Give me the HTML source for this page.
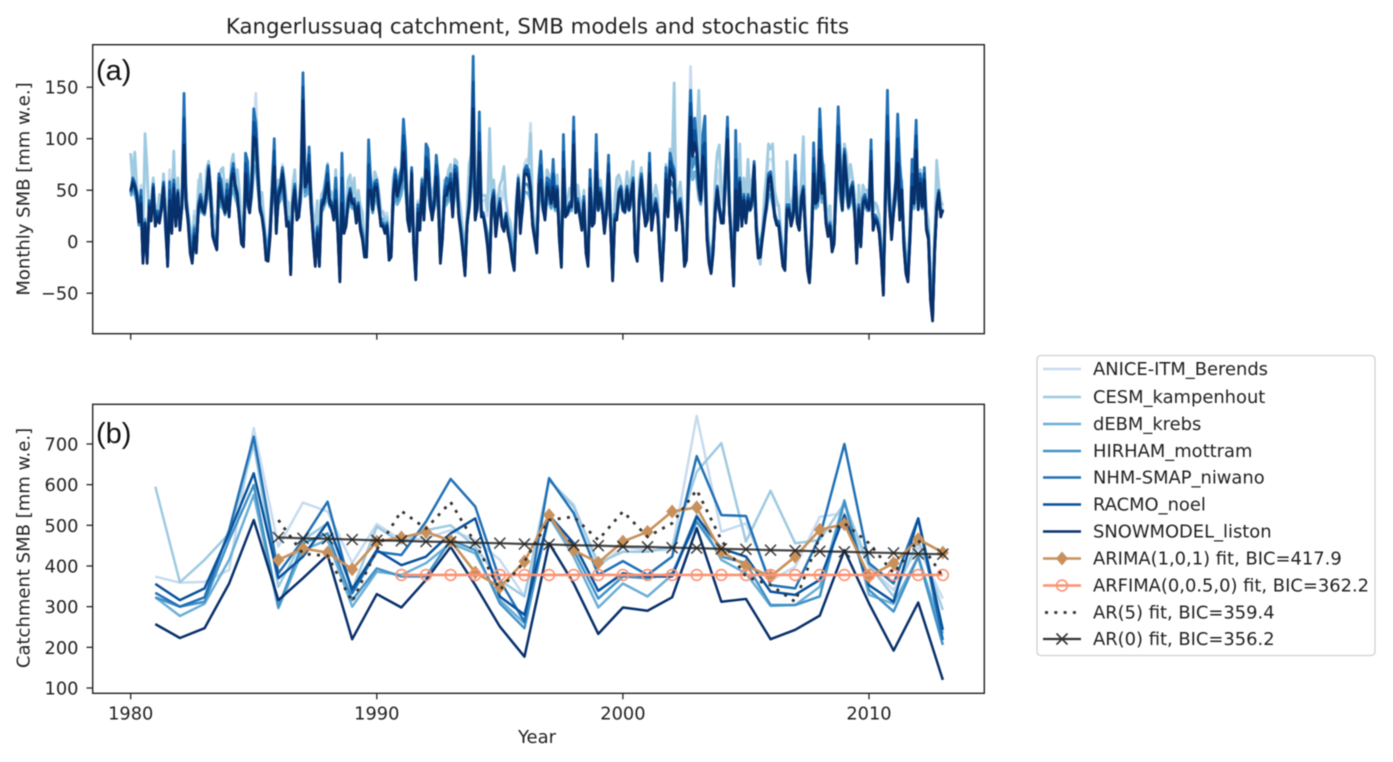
<!DOCTYPE html>
<html lang="en">
<head>
<meta charset="utf-8">
<title>Kangerlussuaq catchment, SMB models and stochastic fits</title>
<style>
html,body{margin:0;padding:0;background:#fff;width:1393px;height:762px;overflow:hidden}
svg{display:block;filter:blur(0.5px)}
text{font-family:"DejaVu Sans","Liberation Sans",sans-serif;fill:#222}
.tick{font-size:17.8px}
.lab{font-size:18px}
.leg{font-size:17.9px}
.panel{font-family:"Liberation Sans",sans-serif;font-size:29px;fill:#111}
</style>
</head>
<body>
<svg id="fig" xmlns="http://www.w3.org/2000/svg" width="1393" height="762" viewBox="0 0 1393 762">
  <text x="537.5" y="33.5" text-anchor="middle" style="font-size:21.3px">Kangerlussuaq catchment, SMB models and stochastic fits</text>
  <text class="lab" transform="translate(29.5,189) rotate(-90)" text-anchor="middle">Monthly SMB [mm w.e.]</text>
  <text class="lab" transform="translate(29.5,548) rotate(-90)" text-anchor="middle">Catchment SMB [mm w.e.]</text>
  <text class="lab" x="537" y="743" text-anchor="middle">Year</text>
  <g id="panelA"></g>
  <g id="panelB"></g>
  <text class="panel" x="96" y="80">(a)</text>
  <text class="panel" x="96" y="443">(b)</text>
  <g>
    <rect x="1037" y="355.5" width="338" height="300" rx="4" fill="#fff" stroke="#d0d0d0" stroke-width="1.3"/>
    <g><line x1="1043" x2="1081" y1="369" y2="369" stroke="#c6dbef" stroke-width="2.5"/><text class="leg" x="1093" y="375">ANICE-ITM_Berends</text></g>
    <g><line x1="1043" x2="1081" y1="397" y2="397" stroke="#9ecae1" stroke-width="2.5"/><text class="leg" x="1093" y="403">CESM_kampenhout</text></g>
    <g><line x1="1043" x2="1081" y1="424" y2="424" stroke="#6baed6" stroke-width="2.5"/><text class="leg" x="1093" y="430">dEBM_krebs</text></g>
    <g><line x1="1043" x2="1081" y1="451" y2="451" stroke="#4292c6" stroke-width="2.5"/><text class="leg" x="1093" y="457">HIRHAM_mottram</text></g>
    <g><line x1="1043" x2="1081" y1="477.5" y2="477.5" stroke="#2171b5" stroke-width="2.5"/><text class="leg" x="1093" y="483.5">NHM-SMAP_niwano</text></g>
    <g><line x1="1043" x2="1081" y1="504.5" y2="504.5" stroke="#08519c" stroke-width="2.5"/><text class="leg" x="1093" y="510.5">RACMO_noel</text></g>
    <g><line x1="1043" x2="1081" y1="531.5" y2="531.5" stroke="#08306b" stroke-width="2.5"/><text class="leg" x="1093" y="537.5">SNOWMODEL_liston</text></g>
    <g><line x1="1043" x2="1081" y1="558.5" y2="558.5" stroke="#c8915c" stroke-width="2.6"/><path d="M1062 551.5 L1068 558.5 L1062 565.5 L1056 558.5 Z" fill="#c8915c"/><text class="leg" x="1093" y="564.5">ARIMA(1,0,1) fit, BIC=417.9</text></g>
    <g><line x1="1043" x2="1081" y1="585.5" y2="585.5" stroke="#fc9272" stroke-width="2.6"/><circle cx="1062" cy="585.5" r="5.4" fill="none" stroke="#fc9272" stroke-width="1.6"/><text class="leg" x="1093" y="591.5">ARFIMA(0,0.5,0) fit, BIC=362.2</text></g>
    <g><line x1="1045" x2="1081" y1="612.5" y2="612.5" stroke="#333" stroke-width="2.8" stroke-dasharray="3 6.3"/><text class="leg" x="1093" y="618.5">AR(5) fit, BIC=359.4</text></g>
    <g><line x1="1043" x2="1081" y1="639" y2="639" stroke="#333" stroke-width="2.2"/><path d="M1056.5 633.5 L1067.5 644.5 M1056.5 644.5 L1067.5 633.5" stroke="#333" stroke-width="1.6"/><text class="leg" x="1093" y="645">AR(0) fit, BIC=356.2</text></g>
  </g>
</svg>
<script>
const xTickLabels = [1980, 1990, 2000, 2010];
const yTicksA = [-50, 0, 50, 100, 150];
const yTicksB = [100, 200, 300, 400, 500, 600, 700];
const monthlyStartYear = 1980;
const annualYears = [1981,1982,1983,1984,1985,1986,1987,1988,1989,1990,1991,1992,1993,1994,1995,1996,1997,1998,1999,2000,2001,2002,2003,2004,2005,2006,2007,2008,2009,2010,2011,2012,2013];
const fitYears = [1986,1987,1988,1989,1990,1991,1992,1993,1994,1995,1996,1997,1998,1999,2000,2001,2002,2003,2004,2005,2006,2007,2008,2009,2010,2011,2012,2013];
const arfimaYears = [1991,1992,1993,1994,1995,1996,1997,1998,1999,2000,2001,2002,2003,2004,2005,2006,2007,2008,2009,2010,2011,2012,2013];

const annualAnice = [374,359,361,390,739,448,556,534,407,503,464,468,488,464,415,325,611,551,398,447,439,439,769,484,505,365,398,521,530,398,341,447,320];
const annualCesm = [595,360,415,480,700,349,464,505,341,497,456,488,500,447,365,325,611,546,407,435,435,447,632,702,460,585,456,464,554,402,325,464,292];
const annualDebm = [323,277,307,415,575,296,439,464,300,386,378,407,456,431,316,259,521,423,298,357,325,378,525,415,382,302,304,349,562,329,307,423,234];
const annualHirham = [323,300,312,464,599,300,456,480,316,394,374,374,464,439,308,247,525,439,320,374,370,382,509,423,407,304,304,325,558,341,288,423,206];
const annualNhm = [334,300,323,488,718,382,464,558,333,435,427,509,614,546,365,263,616,530,378,412,378,423,670,525,523,353,345,472,700,407,357,517,218];
const annualRacmo = [356,316,345,480,628,370,423,507,343,439,402,423,480,517,325,280,525,456,339,382,374,374,521,443,423,337,329,366,525,353,312,517,243];
const annualSnow = [257,223,247,357,513,316,370,427,220,331,298,366,447,353,251,177,456,357,233,298,290,323,493,312,319,220,243,278,439,308,192,310,120];

const fitArima = [415,443,433,392,460,470,484,462,384,348,411,525,439,408,460,484,534,544,435,401,374,423,489,503,374,407,466,433];
const fitArfima = [378,378,378,378,378,378,378,378,378,378,378,378,378,378,378,378,378,378,378,378,378,378,378];
const fitAr5 = [513,430,425,312,440,535,492,557,456,341,411,513,521,464,534,472,505,587,464,374,353,312,472,505,456,382,464,374];
const fitAr0 = [470,468,467,465,463,462,460,459,457,456,454,453,451,450,448,447,445,444,442,441,439,438,436,435,433,432,430,429];

const monthlyAnice = [
85,55,70,48,25,55,5,90,60,25,35,58,
25,35,40,35,60,40,-5,70,25,70,28,55,
25,45,70,46,30,15,0,30,15,60,50,38,
40,60,72,50,25,25,15,55,60,60,50,55,
42,70,75,65,50,40,15,0,65,60,45,60,
95,144,85,45,40,25,-5,-8,25,55,85,30,
55,60,75,55,35,30,-10,50,60,35,35,55,
130,70,65,90,45,20,-5,30,0,45,45,60,
70,48,45,35,60,25,-15,70,30,28,50,60,
48,55,35,45,30,22,0,5,85,62,40,65,
58,46,28,30,25,28,2,4,58,68,52,62,
68,100,75,38,28,60,15,-15,40,30,58,38,
85,72,48,40,50,70,55,-8,20,55,55,62,
70,40,72,70,40,28,10,-12,28,60,75,145,
35,45,95,40,40,40,25,80,40,55,30,45,
50,40,55,38,25,20,5,-5,40,62,30,48,
75,80,78,115,35,20,5,60,85,45,35,65,
60,50,65,45,60,20,-15,85,38,40,48,50,
95,40,50,38,25,48,5,-12,60,30,30,75,
45,55,42,25,40,75,30,-22,35,50,60,55,
45,42,60,45,55,70,0,-5,55,68,45,30,
35,70,28,42,50,40,5,-22,18,70,38,82,
70,100,28,45,52,30,-10,-2,85,170,90,105,
100,125,70,90,85,30,-5,-20,5,45,70,60,
40,35,75,100,38,12,-30,70,25,75,28,55,
35,65,42,55,70,28,-8,-18,12,40,55,80,
80,80,45,35,35,12,-8,-22,65,42,32,40,
70,35,28,55,70,25,-15,-30,15,88,50,55,
100,65,70,38,20,30,2,12,65,105,75,50,
90,80,55,65,60,42,-8,48,18,50,48,48,
42,80,28,35,32,22,-2,-32,45,105,45,18,
38,55,85,42,55,12,-18,-28,20,62,50,95,
38,62,46,60,25,18,-36,-60,8,60,48,36,
32];

const monthlyCesm = [
86,60,87,52,30,48,8,105,70,20,40,62,
22,28,46,30,66,35,-12,60,20,88,24,62,
20,50,60,52,28,10,-5,25,10,48,66,40,
36,70,78,55,30,20,10,60,70,72,42,60,
38,75,85,60,70,50,20,-5,70,62,55,68,
84,118,72,40,48,20,-10,-12,20,64,95,22,
60,55,72,60,40,38,-5,55,70,32,28,45,
125,65,70,80,50,25,18,40,-10,46,50,62,
76,50,48,40,70,30,-20,82,35,30,60,65,
45,62,30,50,35,28,-2,-2,80,64,42,68,
62,50,30,28,22,24,-5,0,62,72,55,65,
70,88,85,40,25,66,10,-20,38,22,62,40,
90,80,50,48,55,75,60,-5,15,60,58,70,
75,42,80,78,45,30,8,-18,30,75,85,160,
35,48,100,45,45,45,30,110,45,60,30,40,
55,60,73,40,25,20,8,-10,40,65,25,52,
70,72,75,105,30,15,-2,62,85,52,40,70,
65,55,72,50,65,18,-18,90,36,42,52,52,
100,42,55,40,28,50,0,-15,66,32,36,80,
50,60,46,26,42,80,35,-25,40,62,65,58,
48,45,68,50,62,78,-5,-8,60,72,48,35,
38,75,30,45,55,44,5,-25,20,75,40,90,
75,154,30,48,58,35,-12,-5,78,135,85,100,
98,147,85,92,80,30,-8,-25,0,60,86,94,
50,40,80,100,40,10,-35,78,25,95,30,62,
40,80,45,60,72,30,-10,-22,10,45,66,95,
90,95,50,40,35,10,-12,-25,78,40,35,45,
80,40,30,60,102,25,-20,-38,12,85,55,60,
105,70,75,40,20,35,0,10,70,110,80,55,
95,85,60,75,62,45,-10,55,20,55,50,50,
45,85,30,38,35,25,-5,-38,50,120,50,20,
40,60,95,45,60,10,-20,-32,22,70,55,105,
40,70,50,65,30,20,-40,-65,5,79,55,40,
35];

const monthlyDebm = [
44,48,46,38,20,30,-10,22,-8,28,26,42,
24,26,26,30,42,28,-6,32,18,40,24,38,
20,32,66,32,26,6,-4,16,2,26,32,28,
28,38,52,36,14,8,4,44,34,32,28,36,
30,46,50,42,36,26,10,8,50,34,30,42,
70,74,52,32,26,16,0,-2,14,38,52,18,
36,40,48,36,22,24,-10,28,38,26,26,40,
92,44,46,56,30,14,-4,16,-4,28,32,38,
44,34,32,26,34,16,-14,32,16,20,32,38,
32,32,24,28,18,12,0,2,38,40,28,40,
40,30,22,22,16,20,-2,-2,34,44,36,40,
46,60,50,26,18,48,8,-16,26,18,40,26,
52,48,32,26,32,46,30,-4,12,34,36,40,
44,28,48,46,28,16,4,-12,20,30,48,84,
26,30,60,28,26,18,8,-10,28,34,14,26,
32,22,18,26,16,10,-2,-10,26,42,16,28,
48,48,46,40,20,12,2,40,44,30,24,40,
38,32,40,30,38,12,-8,50,26,26,30,30,
66,28,32,26,18,30,2,-8,40,20,22,50,
30,38,30,16,26,48,20,-18,24,24,38,40,
30,28,40,30,36,42,2,-4,34,44,30,20,
24,48,18,28,32,26,2,-18,12,44,26,50,
48,46,18,30,32,20,-6,-2,44,82,60,68,
60,42,36,60,52,12,-4,-14,2,28,38,30,
24,22,50,70,28,6,-22,38,18,42,20,34,
24,34,30,34,52,18,0,0,10,22,30,44,
46,36,26,20,20,6,-8,-12,28,28,20,26,
40,22,18,34,38,16,-10,-20,8,46,32,34,
60,38,42,22,12,20,2,8,44,64,42,30,
58,44,32,38,40,26,-4,26,8,32,34,30,
30,54,20,24,22,16,-4,-30,32,64,30,14,
28,40,54,26,38,8,-14,-22,12,38,32,60,
32,42,32,44,18,10,-34,-50,2,30,36,28,
32];

const monthlyHirham = [
46,52,50,40,16,33,-17,20,-16,30,23,47,
20,28,24,34,46,26,-12,36,14,46,20,42,
16,36,78,34,24,0,-10,14,-4,28,36,28,
26,42,60,40,10,4,-2,50,38,34,26,40,
28,52,58,48,40,24,4,2,58,36,28,48,
84,88,58,30,24,12,-8,-10,8,42,62,14,
38,44,56,40,18,20,-20,30,44,24,26,46,
110,48,52,66,32,8,-14,12,-14,30,34,42,
50,36,32,22,36,12,-26,34,12,18,34,42,
34,34,20,30,14,6,-8,-8,44,44,28,46,
46,32,18,18,12,16,-10,-8,38,52,40,46,
52,72,58,24,14,56,2,-26,26,14,46,24,
60,56,34,24,34,54,34,-12,8,38,40,46,
50,26,56,52,26,12,-4,-22,18,32,56,102,
24,32,72,26,26,14,2,-20,30,38,10,26,
34,18,14,26,12,4,-10,-20,26,48,12,30,
56,56,54,44,18,8,-4,46,52,32,22,46,
42,34,46,32,44,8,-16,60,26,26,32,32,
78,28,34,26,16,34,-4,-16,46,18,20,58,
30,42,30,12,26,56,18,-28,22,22,42,44,
30,28,44,30,40,48,-4,-10,36,50,32,18,
22,56,16,28,34,26,-4,-28,8,52,26,60,
56,52,14,32,34,18,-14,-10,52,100,72,82,
72,48,38,72,62,8,-12,-22,-4,28,44,30,
22,20,58,84,28,2,-32,44,14,50,18,38,
22,36,30,36,62,14,-8,-8,6,20,32,52,
54,40,24,18,18,0,-16,-20,28,28,18,24,
46,20,14,36,44,12,-20,-30,4,56,34,36,
74,42,50,20,8,18,-4,4,52,78,50,30,
70,52,32,42,46,26,-12,28,2,34,36,32,
30,66,16,22,20,12,-10,-42,36,80,32,8,
28,46,64,24,44,2,-22,-30,8,46,34,74,
32,50,32,52,14,6,-46,-64,-4,30,42,26,
30];

const monthlyNhm = [
48,62,57,48,22,50,-14,18,-14,40,28,56,
18,30,22,38,58,10,-20,58,12,60,18,50,
14,38,144,42,22,-6,-16,12,-6,36,46,36,
32,50,74,46,8,3,-4,66,60,42,32,56,
30,64,76,56,48,24,2,-2,86,78,34,58,
129,115,72,36,26,12,-12,-14,14,52,100,12,
50,56,72,52,20,20,-28,40,56,26,30,60,
164,60,62,92,38,6,-20,14,-20,40,42,56,
74,42,38,26,62,12,-34,86,14,18,42,52,
40,42,22,38,16,6,-12,-12,99,60,36,58,
60,40,18,18,12,18,-14,-10,50,70,52,60,
72,119,90,26,14,72,-2,-32,36,16,60,26,
95,90,50,26,40,84,62,-16,6,50,62,56,
66,28,74,72,28,12,-8,-30,18,38,70,180,
26,38,126,30,28,16,-2,-26,40,50,10,30,
42,20,14,28,12,0,-12,-24,34,62,14,38,
70,74,70,54,18,6,-8,62,88,40,24,62,
60,42,80,40,54,6,-20,104,30,32,38,40,
121,32,42,28,16,44,-8,-20,70,20,24,104,
38,52,36,12,34,84,18,-34,26,28,50,54,
36,34,54,36,50,62,-8,-14,44,66,40,18,
26,86,16,32,42,30,-8,-34,6,72,28,86,
76,70,14,38,42,20,-20,-12,88,147,96,120,
96,62,46,104,122,6,-16,-28,-8,34,54,36,
24,22,72,121,32,-2,-40,108,16,62,20,46,
22,46,36,44,78,16,-8,-10,6,24,38,66,
68,50,28,20,20,0,-20,-24,36,36,18,30,
84,22,14,44,54,12,-24,-36,2,96,42,46,
129,84,62,22,8,18,-6,2,70,131,82,36,
90,66,38,52,58,32,-16,36,-2,42,46,38,
36,99,14,26,22,12,-14,-48,60,147,40,6,
34,60,124,76,52,0,-28,-36,6,80,70,118,
36,66,42,72,14,6,-54,-74,-8,36,50,28,
30];

const monthlyRacmo = [
49,60,55,46,21,44,-18,18,-18,37,24,54,
17,27,20,35,56,16,-22,50,10,56,16,48,
12,36,120,40,20,-8,-18,8,-8,34,43,33,
30,48,72,45,6,0,-6,62,52,40,30,50,
27,62,71,54,46,22,0,-4,76,60,31,55,
116,108,69,33,25,10,-15,-16,10,50,88,10,
47,53,69,48,17,19,-30,37,53,23,27,56,
150,56,60,84,36,4,-22,11,-22,37,40,52,
66,40,36,24,50,10,-36,62,11,16,40,50,
38,40,20,36,14,4,-13,-13,75,55,33,56,
56,37,16,16,10,16,-16,-12,47,65,48,56,
66,103,78,23,12,69,-3,-35,32,13,56,23,
82,78,43,23,38,74,50,-18,4,47,54,54,
61,26,70,66,26,10,-10,-31,16,36,68,155,
23,36,106,27,26,13,-3,-28,37,47,7,27,
39,17,12,26,10,-1,-15,-26,31,60,11,36,
68,70,66,52,16,4,-10,57,74,37,22,57,
53,39,66,37,52,4,-22,87,27,30,36,37,
107,30,39,26,13,40,-10,-22,61,17,21,86,
34,49,33,10,31,75,16,-36,23,24,48,52,
33,31,52,33,47,59,-10,-16,42,63,37,16,
23,76,13,30,39,27,-10,-36,4,66,26,78,
71,65,12,36,39,17,-22,-15,74,134,89,108,
91,57,43,93,96,4,-18,-30,-10,31,52,33,
21,20,69,110,30,-3,-41,79,13,59,17,43,
20,43,33,42,75,13,-12,-12,4,21,36,63,
65,47,26,18,17,-3,-22,-26,33,33,16,27,
68,20,12,42,52,10,-26,-38,0,81,39,43,
109,65,59,20,6,16,-8,0,65,112,70,33,
87,63,36,49,55,30,-18,33,-3,39,43,36,
33,88,12,23,20,10,-16,-50,50,122,37,4,
31,55,100,48,51,-2,-29,-37,4,66,53,103,
33,61,38,66,12,4,-55,-75,-9,33,48,26,
30];

const monthlySnow = [
50,57,53,44,19,37,-21,18,-21,34,20,52,
15,24,18,31,53,24,-24,40,8,52,15,47,
11,34,94,37,18,-11,-21,5,-11,31,40,31,
28,47,70,44,5,-2,-8,57,44,37,28,44,
24,60,66,53,44,21,-2,-5,66,40,28,53,
102,99,66,31,24,8,-18,-19,5,47,73,8,
44,50,66,44,15,18,-32,34,50,21,24,53,
137,53,58,76,34,2,-24,8,-24,34,37,47,
57,37,34,21,40,8,-39,37,8,15,37,47,
37,37,18,34,11,2,-15,-15,50,50,31,53,
53,34,15,15,8,15,-18,-15,44,60,44,53,
60,87,66,21,10,66,-5,-37,28,11,53,21,
70,66,37,21,37,63,37,-21,2,44,45,53,
57,24,66,60,24,8,-11,-33,15,34,66,129,
21,34,87,24,24,11,-5,-30,34,44,5,24,
37,15,10,24,8,-2,-18,-28,28,57,8,34,
66,66,63,50,15,2,-11,53,60,34,21,53,
47,37,53,34,50,2,-25,70,24,28,34,34,
94,28,37,24,11,37,-11,-24,52,15,18,68,
31,47,31,8,28,66,15,-38,21,21,47,50,
31,29,50,31,44,57,-11,-19,40,60,34,15,
21,66,11,28,37,24,-11,-38,2,60,24,70,
66,60,11,34,37,15,-24,-18,60,121,83,96,
86,53,40,83,71,2,-21,-31,-11,28,50,31,
18,18,66,99,28,-5,-43,50,11,57,15,40,
18,40,31,40,73,11,-16,-15,2,18,34,60,
63,44,24,16,15,-5,-24,-28,31,31,15,24,
53,18,11,40,50,8,-28,-40,-2,66,37,40,
89,47,57,18,5,15,-10,-2,60,94,57,31,
84,60,34,47,53,28,-21,31,-5,37,40,34,
31,78,11,21,18,8,-18,-52,40,97,34,2,
28,50,76,21,50,-5,-31,-39,2,53,37,89,
31,57,34,60,11,2,-57,-77,-11,31,47,24,
31];

const SVGNS = 'http://www.w3.org/2000/svg';
const xScale = y => 130.7 + (y - 1980) * 24.61;
const yScaleA = v => 241.7 - 1.03 * v;
const yScaleB = v => 688 - (v - 100) * 0.4067;
const monthlyYear = i => monthlyStartYear + i / 12;

function make(parent, tag, props, name) {
  const el = document.createElementNS(SVGNS, tag);
  for (const k in props) el.setAttribute(k, props[k]);
  
  
  parent.appendChild(el);
  return el;
}

function polyPoints(xs, ys, yFn) {
  return ys.map((v, i) => xScale(xs[i]).toFixed(2) + ',' + yFn(v).toFixed(2)).join(' ');
}

function drawAxes(parent, top, bottom, yTicks, yFn, showLabels, prefix) {
  xTickLabels.forEach(t => {
    const x = xScale(t);
    make(parent, 'line', {x1: x, x2: x, y1: bottom, y2: bottom + 6, stroke: '#222', 'stroke-width': 1.3}, prefix + '-x-tick-' + t);
    if (showLabels) {
      const lab = make(parent, 'text', {x: x, y: bottom + 26, 'text-anchor': 'middle', class: 'tick'}, 'x-tick-label-' + t);
      lab.textContent = String(t);
    }
  });
  yTicks.forEach(t => {
    const y = yFn(t);
    make(parent, 'line', {x1: 86.5, x2: 92.7, y1: y, y2: y, stroke: '#222', 'stroke-width': 1.3}, prefix + '-y-tick-' + t);
    const lab = make(parent, 'text', {x: 78.5, y: y + 6.5, 'text-anchor': 'end', class: 'tick'}, prefix + '-y-tick-label-' + t);
    lab.textContent = String(t).replace('-', '\u2212');
  });
  make(parent, 'rect', {x: 92.7, y: top, width: 891.6, height: bottom - top, fill: 'none', stroke: '#222', 'stroke-width': 1.4}, prefix + '-frame');
}

const panelA = document.getElementById('panelA');
const panelB = document.getElementById('panelB');

const modelStyles = [
  ['anice', '#c6dbef'], ['cesm', '#9ecae1'], ['debm', '#6baed6'], ['hirham', '#4292c6'],
  ['nhm-smap', '#2171b5'], ['racmo', '#08519c'], ['snowmodel', '#08306b']
];
const monthlySeries = [monthlyAnice, monthlyCesm, monthlyDebm, monthlyHirham, monthlyNhm, monthlyRacmo, monthlySnow];
const annualSeries = [annualAnice, annualCesm, annualDebm, annualHirham, annualNhm, annualRacmo, annualSnow];

monthlySeries.forEach((vals, s) => {
  const xs = vals.map((_, i) => monthlyYear(i));
  make(panelA, 'polyline', {points: polyPoints(xs, vals, yScaleA), fill: 'none', stroke: modelStyles[s][1], 'stroke-width': 2.8, 'stroke-linejoin': 'round'}, 'monthly-line-' + modelStyles[s][0]);
});
drawAxes(panelA, 44.7, 333.7, yTicksA, yScaleA, false, 'panel-a');

annualSeries.forEach((vals, s) => {
  make(panelB, 'polyline', {points: polyPoints(annualYears, vals, yScaleB), fill: 'none', stroke: modelStyles[s][1], 'stroke-width': 2.5, 'stroke-linejoin': 'round'}, 'annual-line-' + modelStyles[s][0]);
});

make(panelB, 'polyline', {points: polyPoints(fitYears, fitArima, yScaleB), fill: 'none', stroke: '#c8915c', 'stroke-width': 2.6}, 'arima-fit-line');
fitArima.forEach((v, i) => {
  const x = xScale(fitYears[i]), y = yScaleB(v);
  make(panelB, 'path', {d: `M${x} ${y - 7} L${x + 6} ${y} L${x} ${y + 7} L${x - 6} ${y} Z`, fill: '#c8915c'}, 'arima-fit-point');
});

make(panelB, 'polyline', {points: polyPoints(arfimaYears, fitArfima, yScaleB), fill: 'none', stroke: '#fc9272', 'stroke-width': 2.6}, 'arfima-fit-line');
fitArfima.forEach((v, i) => {
  make(panelB, 'circle', {cx: xScale(arfimaYears[i]), cy: yScaleB(v), r: 5.4, fill: 'none', stroke: '#fc9272', 'stroke-width': 1.6}, 'arfima-fit-point');
});

make(panelB, 'polyline', {points: polyPoints(fitYears, fitAr5, yScaleB), fill: 'none', stroke: '#333', 'stroke-width': 2.8, 'stroke-dasharray': '3 6.3'}, 'ar5-fit-line');

make(panelB, 'polyline', {points: polyPoints(fitYears, fitAr0, yScaleB), fill: 'none', stroke: '#222', 'stroke-width': 2.2, 'stroke-opacity': 0.85}, 'ar0-fit-line');
fitAr0.forEach((v, i) => {
  const x = xScale(fitYears[i]), y = yScaleB(v);
  make(panelB, 'path', {d: `M${x - 5.5} ${y - 5.5} L${x + 5.5} ${y + 5.5} M${x - 5.5} ${y + 5.5} L${x + 5.5} ${y - 5.5}`, stroke: '#222', 'stroke-width': 1.6, 'stroke-opacity': 0.85, fill: 'none'}, 'ar0-fit-point');
});
drawAxes(panelB, 404.3, 693.3, yTicksB, yScaleB, true, 'panel-b');
</script>
</body>
</html>
